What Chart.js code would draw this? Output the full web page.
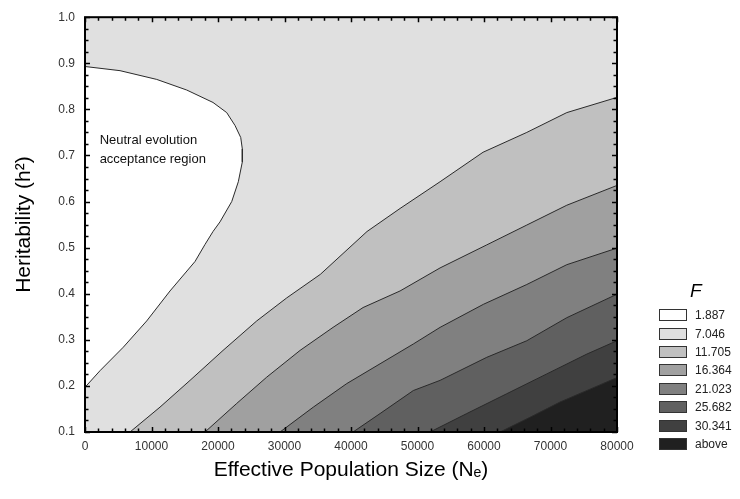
<!DOCTYPE html>
<html><head><meta charset="utf-8">
<script src="https://cdn.jsdelivr.net/npm/chart.js@4/dist/chart.umd.min.js"></script>
<style>
html,body{margin:0;padding:0;background:#fff;}
#wrap{position:relative;width:740px;height:499px;overflow:hidden;}
#c{display:block;}
#legend{position:absolute;left:659px;top:280px;font-family:'Liberation Sans',Arial,sans-serif;font-size:12px;color:#222;}
#legend .ttl{font-style:italic;font-size:19px;margin-left:31px;height:26px;line-height:22px;color:#000;}
#legend .row{height:18.4px;display:flex;align-items:center;}
#legend .box{width:26px;height:10px;border:1px solid #333;margin-right:8px;box-sizing:content-box;}
</style></head><body>
<div id="wrap"><canvas id="c" width="740" height="499"></canvas><div id="legend"></div></div>
<script>
// ---- data ----
const xTickValues = [0,10000,20000,30000,40000,50000,60000,70000,80000];
const yTickValues = [0.1,0.2,0.3,0.4,0.5,0.6,0.7,0.8,0.9,1.0];
const levelLabels = ['1.887','7.046','11.705','16.364','21.023','25.682','30.341','above'];
const levelColors = ['#ffffff','#e0e0e0','#c0c0c0','#a0a0a0','#808080','#606060','#404040','#202020'];

// neutral evolution acceptance region boundary (F = 1.887)
const neutralX = [0,5264,10783,15295,19250,21311,22560,23417,23658,23658,23056,22064,20304,19250,18048,16544,12784,9280,5760,2256,0];
const neutralY = [0.893,0.884,0.865,0.842,0.815,0.793,0.765,0.739,0.714,0.686,0.643,0.600,0.556,0.535,0.507,0.470,0.406,0.341,0.284,0.233,0.197];
// contour F = 7.046
const c2X = [6768,11280,15792,20755,25824,30336,35384,42408,47376,53392,59859,66432,72448,80000];
const c2Y = [0.100,0.154,0.212,0.277,0.341,0.391,0.442,0.535,0.585,0.643,0.707,0.750,0.793,0.826];
// contour F = 11.705
const c3X = [18048,22816,27328,32336,37299,41811,47376,53392,60415,66432,72448,80000];
const c3Y = [0.100,0.162,0.219,0.277,0.327,0.370,0.406,0.456,0.506,0.549,0.592,0.635];
// contour F = 16.364
const c4X = [29328,34336,39359,44368,49376,53392,59904,66432,72448,80000];
const c4Y = [0.100,0.154,0.205,0.248,0.291,0.327,0.377,0.420,0.463,0.499];
// contour F = 21.023
const c5X = [40307,44368,49376,53392,60415,66432,72448,80000];
const c5Y = [0.100,0.140,0.190,0.212,0.262,0.298,0.348,0.399];
// contour F = 25.682
const c6X = [51888,57406,63422,69438,75454,80000];
const c6Y = [0.100,0.140,0.183,0.226,0.269,0.298];
// contour F = 30.341
const c7X = [62416,66928,71440,75952,80000];
const c7Y = [0.100,0.132,0.165,0.193,0.218];

const FONT = "'Liberation Sans', Arial, sans-serif";
const pts = (xs, ys) => xs.map((x, i) => ({x, y: ys[i]}));
const lineStyle = {borderColor:'#2a2a2a', borderWidth:1, pointRadius:0, tension:0};

const contours = [[c2X,c2Y],[c3X,c3Y],[c4X,c4Y],[c5X,c5Y],[c6X,c6Y],[c7X,c7Y]];
const datasets = [Object.assign({data: pts(neutralX, neutralY), fill:'shape', backgroundColor: levelColors[0], order: 10}, lineStyle)];
contours.forEach((c, i) => {
  datasets.push(Object.assign({data: pts(c[0], c[1]), fill:'start', backgroundColor: levelColors[i+2], order: 8 - i}, lineStyle));
});

const framePlugin = {
  id: 'frame',
  beforeDatasetsDraw(chart) {
    const {ctx, chartArea: a} = chart;
    ctx.save();
    ctx.fillStyle = levelColors[1];
    ctx.fillRect(a.left, a.top, a.right - a.left, a.bottom - a.top);
    ctx.restore();
  },
  afterDatasetsDraw(chart) {
    const {ctx, chartArea: a, scales: {x, y}} = chart;
    ctx.save();
    // annotation
    ctx.fillStyle = '#111';
    ctx.font = '13px ' + FONT;
    ctx.textBaseline = 'middle';
    ctx.textAlign = 'left';
    const tx = x.getPixelForValue(2200);
    ctx.fillText('Neutral evolution', tx, y.getPixelForValue(0.733));
    ctx.fillText('acceptance region', tx, y.getPixelForValue(0.692));
    // ticks
    ctx.strokeStyle = '#000';
    ctx.lineWidth = 1.5;
    ctx.beginPath();
    for (let i = 0; i <= 40; i++) {
      const px = Math.round(x.getPixelForValue(i * 2000)) + 0.5;
      const len = i % 5 === 0 ? 5 : 3.5;
      ctx.moveTo(px, a.top); ctx.lineTo(px, a.top + len);
      ctx.moveTo(px, a.bottom); ctx.lineTo(px, a.bottom - len);
    }
    for (let i = 0; i <= 36; i++) {
      const py = Math.round(y.getPixelForValue(0.1 + i * 0.025)) + 0.5;
      const len = i % 4 === 0 ? 5 : 3.5;
      ctx.moveTo(a.left, py); ctx.lineTo(a.left + len, py);
      ctx.moveTo(a.right, py); ctx.lineTo(a.right - len, py);
    }
    ctx.stroke();
    ctx.lineWidth = 2;
    ctx.strokeRect(a.left, a.top, a.right - a.left, a.bottom - a.top);
    ctx.restore();
  }
};

new Chart(document.getElementById('c'), {
  type: 'line',
  data: {datasets},
  options: {
    responsive: false,
    animation: false,
    events: [],
    layout: {padding: {left: 0, right: 123, top: 14, bottom: 0}},
    plugins: {legend: {display: false}, tooltip: {enabled: false}},
    scales: {
      x: {
        type: 'linear', min: 0, max: 80000,
        grid: {display: false, drawTicks: false}, border: {display: false},
        afterBuildTicks: s => { s.ticks = xTickValues.map(v => ({value: v})); },
        afterFit: s => { s.height = 67; },
        ticks: {color: '#333', font: {family: FONT, size: 12}, padding: 7, maxRotation: 0, autoSkip: false,
          callback: v => String(v)},
        title: {display: true, text: 'Effective Population Size (Nₑ)', color: '#000', font: {family: FONT, size: 21}, padding: {top: 0, bottom: 16}}
      },
      y: {
        type: 'linear', min: 0.1, max: 1.0,
        grid: {display: false, drawTicks: false}, border: {display: false},
        afterBuildTicks: s => { s.ticks = yTickValues.map(v => ({value: v})); },
        afterFit: s => { s.width = 85; },
        ticks: {color: '#333', font: {family: FONT, size: 12}, padding: 10, autoSkip: false,
          callback: v => Number(v).toFixed(1)},
        title: {display: true, text: 'Heritability (h²)', color: '#000', font: {family: FONT, size: 21}, padding: {top: 12, bottom: 0}}
      }
    }
  },
  plugins: [framePlugin]
});

// legend
const lg = document.getElementById('legend');
const t = document.createElement('div'); t.className = 'ttl'; t.textContent = 'F'; lg.appendChild(t);
levelLabels.forEach((lab, i) => {
  const r = document.createElement('div'); r.className = 'row';
  const b = document.createElement('div'); b.className = 'box'; b.style.background = levelColors[i];
  const s = document.createElement('span'); s.textContent = lab;
  r.appendChild(b); r.appendChild(s); lg.appendChild(r);
});
</script>
</body></html>
